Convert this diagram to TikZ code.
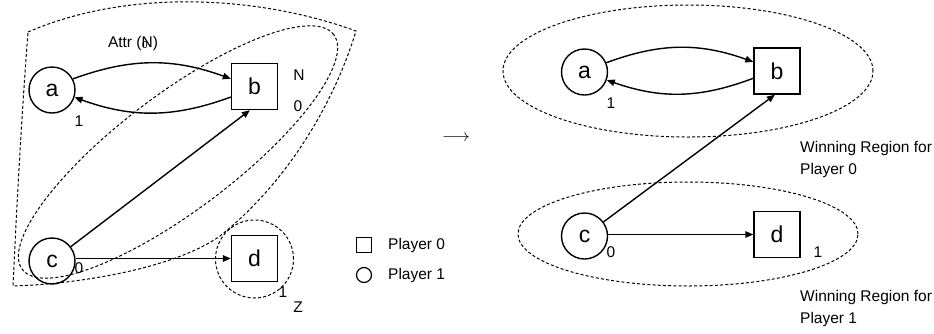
\documentclass[tikz,border=0pt]{standalone}
\usepackage{fontspec}
\setmainfont{Liberation Sans}
\usetikzlibrary{arrows.meta,calc}
\begin{document}
\begin{tikzpicture}[x=1pt,y=-1pt,
  pone/.style={circle,draw,line width=1.4pt,minimum size=46pt,inner sep=0pt,font=\fontsize{23}{23}\selectfont},
  pzero/.style={rectangle,draw,line width=1.4pt,minimum size=46pt,inner sep=0pt,font=\fontsize{23}{23}\selectfont},
  lbl/.style={inner sep=0pt,font=\fontsize{15.5}{18}\selectfont},
  txt/.style={inner sep=0pt,anchor=west,align=left,font=\fontsize{15.5}{22}\selectfont},
  region/.style={draw,line width=1pt,dash pattern=on 3pt off 2.2pt},
  edge/.style={line width=1.4pt,-{Triangle[length=8pt,width=6.5pt]}}
]
\useasboundingbox (0,0) rectangle (934,333);

% regions
\draw[region] (28,32) .. controls (130,-12) and (260,-4) .. (356,31)
  .. controls (335,100) and (290,180) .. (220,236)
  .. controls (175,268) and (80,284) .. (13,286)
  .. controls (17,200) and (22,110) .. (28,32) -- cycle;
\draw[region, rotate around={37:(178,152)}] (178,152) ellipse (195pt and 58pt);
\draw[region] (254.5,259) circle (39pt);
\draw[region] (688,71) ellipse (185pt and 66pt);
\draw[region] (688,234) ellipse (170pt and 52pt);

% left graph
\node[pone] (a1) at (52,90) {a};
\node[pzero] (b1) at (254.5,86.5) {b};
\node[pone] (c1) at (52,261) {c};
\node[pzero] (d1) at (254.5,258.5) {d};
\draw[edge] (a1.28) to[bend left=20] (b1.162);
\draw[edge] (b1.204) to[bend left=20] (a1.-18);
\draw[edge] (c1) -- (b1.259);
\draw[edge] (c1.east |- d1.west) -- (d1.west);

% right graph
\node[pone] (a2) at (584.5,72) {a};
\node[pzero] (b2) at (777,71) {b};
\node[pone] (c2) at (584.5,236) {c};
\node[pzero] (d2) at (777,234.5) {d};
\draw[edge] (a2.23) to[bend left=20] (b2.159);
\draw[edge] (b2.197) to[bend left=20] (a2.-20);
\draw[edge] (c2) -- (b2.265);
\draw[edge] (c2.east |- d2.west) -- (d2.west);

% labels
\node[lbl] (l1) at (79,121) {1};
\node[lbl] (lN) at (299,75) {N};
\node[lbl] (l0b) at (298,106) {0};
\node[lbl] (l0c) at (79,268) {0};
\node[lbl] (l1d) at (283,292) {1};
\node[lbl] (lZ) at (298,307) {Z};
\node[lbl] (attr) at (133,43) {Attr (\rlap{\kern0.5pt\raisebox{-1pt}{\fontsize{10}{10}\selectfont 0}}N)};
\node[lbl] (r1) at (611,103) {1};
\node[lbl] (r0) at (611,252) {0};
\node[lbl] (r1d) at (818,252) {1};
\node[txt] (w0) at (800,159) {Winning Region for\\Player 0};
\node[txt] (w1) at (800,308) {Winning Region for\\Player 1};

% legend
\node[rectangle,draw,line width=1.2pt,minimum size=15pt,inner sep=0pt] (lg0) at (364,245) {};
\node[circle,draw,line width=1.2pt,minimum size=15pt,inner sep=0pt] (lg1) at (364,275) {};
\node[txt] (lt0) at (388,245) {Player 0};
\node[txt] (lt1) at (388,275) {Player 1};

% transition arrow
\node[inner sep=0pt] (arr) at (456,138) {\fontsize{16}{16}\selectfont$\longrightarrow$};
\end{tikzpicture}
\end{document}
